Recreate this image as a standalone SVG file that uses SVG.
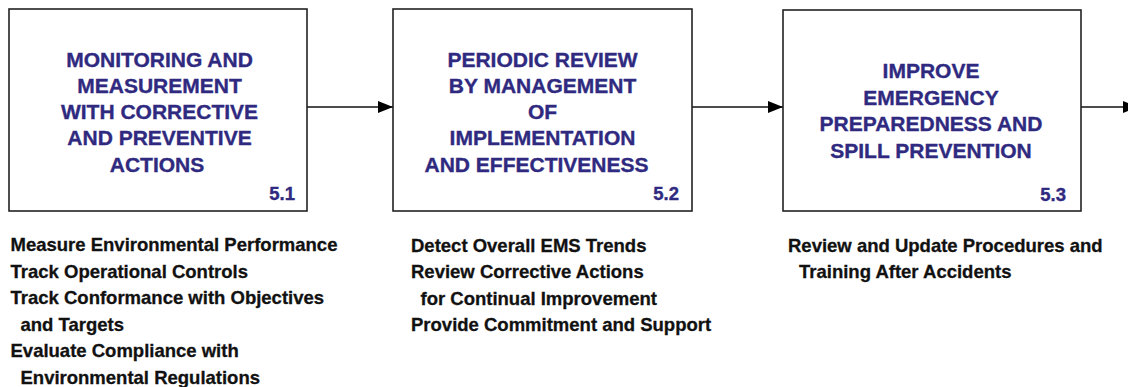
<svg xmlns="http://www.w3.org/2000/svg" width="1128" height="387" viewBox="0 0 1128 387">
<style>
.box{fill:#fff;stroke:#222;stroke-width:1.6}
.t{font-family:"Liberation Sans",Arial,sans-serif;font-weight:bold;font-size:21px;fill:#2f2a7f;stroke:#2f2a7f;stroke-width:0.35;text-anchor:middle}
.n{font-family:"Liberation Sans",Arial,sans-serif;font-weight:bold;font-size:18.5px;fill:#2f2a7f;stroke:#2f2a7f;stroke-width:0.35;text-anchor:end}
.d{font-family:"Liberation Sans",Arial,sans-serif;font-weight:bold;font-size:18.5px;fill:#111;stroke:#111;stroke-width:0.3}
.c{stroke:#111;stroke-width:1.5;fill:none}
</style>
<defs>
<marker id="ah" markerWidth="15" markerHeight="12" refX="15" refY="6" orient="auto" markerUnits="userSpaceOnUse">
<path d="M0,0 L15,6 L0,12 Z" fill="#000"/>
</marker>
</defs>
<g id="connectors">
<line class="c" x1="307" y1="107" x2="393" y2="107" marker-end="url(#ah)"/>
<line class="c" x1="692" y1="107" x2="783" y2="107" marker-end="url(#ah)"/>
<line class="c" x1="1081" y1="107" x2="1138" y2="107" marker-end="url(#ah)"/>
</g>
<g id="node-5-1">
<rect class="box" x="9" y="9" width="298" height="202"/>
<text class="t"><tspan x="159.5" y="67">MONITORING AND</tspan><tspan x="159.5" y="93">MEASUREMENT</tspan><tspan x="159.5" y="119">WITH CORRECTIVE</tspan><tspan x="159.5" y="145">AND PREVENTIVE</tspan><tspan x="157" y="172">ACTIONS</tspan></text>
<text class="n" x="295" y="200">5.1</text>
</g>
<g id="node-5-2">
<rect class="box" x="393" y="9" width="299" height="202"/>
<text class="t"><tspan x="542.5" y="67">PERIODIC REVIEW</tspan><tspan x="542.5" y="93">BY MANAGEMENT</tspan><tspan x="542.5" y="119">OF</tspan><tspan x="542.5" y="145">IMPLEMENTATION</tspan><tspan x="536.5" y="172">AND EFFECTIVENESS</tspan></text>
<text class="n" x="679" y="200">5.2</text>
</g>
<g id="node-5-3">
<rect class="box" x="783" y="10" width="298" height="201"/>
<text class="t"><tspan x="931" y="78">IMPROVE</tspan><tspan x="931" y="105">EMERGENCY</tspan><tspan x="931" y="131">PREPAREDNESS AND</tspan><tspan x="931" y="158">SPILL PREVENTION</tspan></text>
<text class="n" x="1066" y="201">5.3</text>
</g>
<g id="notes-5-1">
<text class="d"><tspan x="10.5" y="251">Measure Environmental Performance</tspan><tspan x="10.5" y="277.5">Track Operational Controls</tspan><tspan x="10.5" y="304">Track Conformance with Objectives</tspan><tspan x="20.5" y="330.5">and Targets</tspan><tspan x="10.5" y="357">Evaluate Compliance with</tspan><tspan x="20.5" y="383.5">Environmental Regulations</tspan></text>
</g>
<g id="notes-5-2">
<text class="d"><tspan x="411" y="251.5">Detect Overall EMS Trends</tspan><tspan x="411" y="278">Review Corrective Actions</tspan><tspan x="420.5" y="304.5">for Continual Improvement</tspan><tspan x="411" y="331">Provide Commitment and Support</tspan></text>
</g>
<g id="notes-5-3">
<text class="d"><tspan x="788" y="251.5">Review and Update Procedures and</tspan><tspan x="799" y="278">Training After Accidents</tspan></text>
</g>
</svg>
